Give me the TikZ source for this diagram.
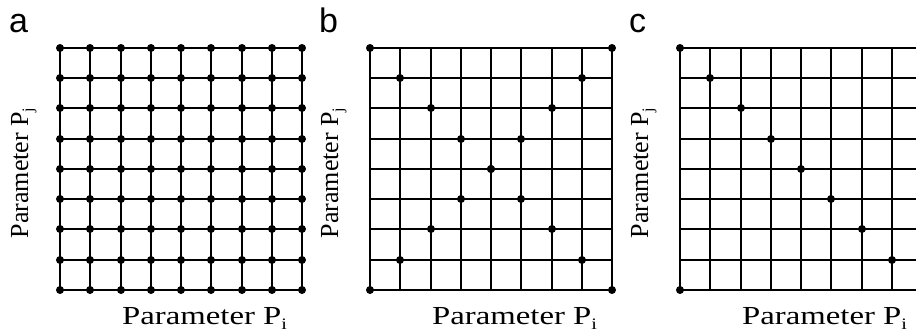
\documentclass[tikz,border=0pt]{standalone}
\usepackage{fontspec}
\newfontfamily\panelfont{Liberation Sans}
\newfontfamily\axisfont{Liberation Serif}
\newcommand{\parlabel}[1]{Parameter P\raisebox{-5pt}{\fontsize{16}{16}\selectfont #1}}
\begin{document}
\begin{tikzpicture}[x=1pt,y=1pt,
  gridline/.style={line width=2pt},
  griddot/.style={circle,fill=black,inner sep=0pt,minimum size=8pt},
  axislabel/.style={inner sep=0pt,font=\axisfont\fontsize{26}{26}\selectfont},
  panellabel/.style={inner sep=0pt,anchor=base west,font=\panelfont\fontsize{34}{34}\selectfont}]
  \useasboundingbox (0,0) rectangle (916,333);
  % three panels, 8x8 cells each
  \foreach \p/\ox in {a/0,b/310,c/620} {
    \begin{scope}[shift={(\ox,0)}]
      \clip (0,0) rectangle ({916-\ox},333);
      \foreach \k in {0,...,8} {
        \pgfmathtruncatemacro\d{round(\k*30.25)}
        \draw[gridline] ({60+\d},43) -- ({60+\d},285);
        \draw[gridline] (60,{43+\d}) -- (302,{43+\d});
      }
      \node[panellabel] (lab-\p) at (9,301) {\p};
      \node[axislabel,anchor=base west] (xlab-\p) at (122,9) {\scalebox{1.26}[1]{\parlabel{i}}};
      \node[axislabel,rotate=90,anchor=base] (ylab-\p) at (28,160) {\parlabel{j}};
    \end{scope}
  }
  % a: every crossing
  \foreach \i in {0,...,8}
    \foreach \j in {0,...,8} {
      \pgfmathtruncatemacro\di{round(\i*30.25)}
      \pgfmathtruncatemacro\dj{round(\j*30.25)}
      \node[griddot] (a-\i-\j) at ({60+\di},{43+\dj}) {};
    }
  % b: both diagonals
  \foreach \i in {0,...,8} {
    \pgfmathtruncatemacro\di{round(\i*30.25)}
    \pgfmathtruncatemacro\dm{round((8-\i)*30.25)}
    \node[griddot] (b-\i-\i) at ({370+\di},{43+\di}) {};
    \node[griddot] (b-\i-m) at ({370+\di},{43+\dm}) {};
  }
  % c: falling diagonal and lower left corner
  \node[griddot] (c-0-0) at (680,43) {};
  \foreach \i in {0,...,7} {
    \pgfmathtruncatemacro\di{round(\i*30.25)}
    \pgfmathtruncatemacro\dm{round((8-\i)*30.25)}
    \node[griddot] (c-\i-m) at ({680+\di},{43+\dm}) {};
  }
\end{tikzpicture}
\end{document}
